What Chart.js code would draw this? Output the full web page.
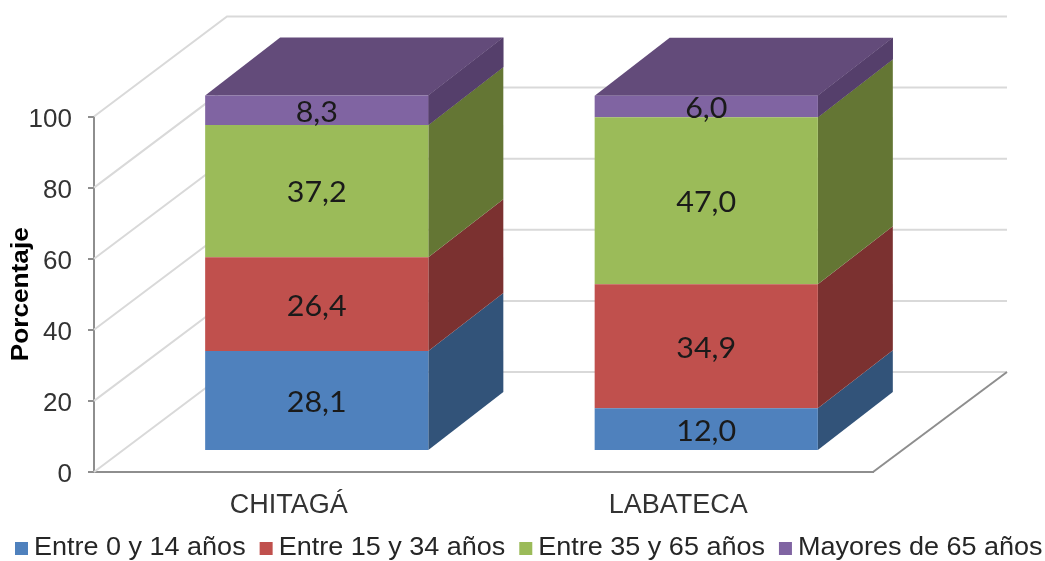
<!DOCTYPE html>
<html>
<head>
<meta charset="utf-8">
<script src="https://cdn.jsdelivr.net/npm/chart.js@4"></script>
<style>
  body { margin: 0; background: #fff; }
</style>
</head>
<body>
<canvas id="poblacionChart" width="1045" height="561"></canvas>
<script>
const municipios = ["CHITAGÁ", "LABATECA"];
const entre0y14 = [28.1, 12.0];
const entre15y34 = [26.4, 34.9];
const entre35y65 = [37.2, 47.0];
const mayores65 = [8.3, 6.0];
const nombresSeries = ["Entre 0 y 14 años", "Entre 15 y 34 años", "Entre 35 y 65 años", "Mayores de 65 años"];
const yTicks = [0, 20, 40, 60, 80, 100];

const frente = ["#4f81bd", "#c0504d", "#9bbb59", "#8064a2"];
const lado = ["#325379", "#7b3130", "#647634", "#553f6b"];
const tapa = "#634b7a";

// desplazamiento del frente de la barra y profundidad de la caja
const offX = 28, offY = -21;
const fondoX = 75, fondoY = -58;
// profundidad de las paredes del grafico
const paredX = 133, paredY = -100;

function poly(ctx, pts, color) {
  ctx.fillStyle = color;
  ctx.beginPath();
  pts.forEach((p, i) => (i ? ctx.lineTo(p[0], p[1]) : ctx.moveTo(p[0], p[1])));
  ctx.closePath();
  ctx.fill();
}

// texto ensanchado solo en horizontal
function textoAncho(ctx, texto, x, y, escala) {
  ctx.save();
  ctx.translate(x, y);
  ctx.scale(escala, 1);
  ctx.fillText(texto, 0, 0);
  ctx.restore();
}

const caja3d = {
  id: "caja3d",
  beforeDatasetsDraw(chart) {
    const ctx = chart.ctx;
    const { left, right, bottom } = chart.chartArea;
    const y = chart.scales.y;
    ctx.save();
    // lineas de la pared lateral y del fondo
    ctx.strokeStyle = "#d9d9d9";
    ctx.lineWidth = 2;
    yTicks.forEach((t) => {
      const py = y.getPixelForValue(t);
      ctx.beginPath();
      ctx.moveTo(left, py);
      ctx.lineTo(left + paredX, py + paredY);
      ctx.lineTo(right + paredX + 1, py + paredY);
      ctx.stroke();
    });
    // borde derecho del piso
    ctx.strokeStyle = "#8e8e8e";
    ctx.beginPath();
    ctx.moveTo(right, bottom);
    ctx.lineTo(right + paredX + 1, bottom + paredY);
    ctx.stroke();

    // caras laterales y tapa, se dibujan antes de las barras
    ctx.translate(offX, offY);
    chart.data.datasets.forEach((ds, i) => {
      chart.getDatasetMeta(i).data.forEach((bar) => {
        const x2 = bar.x + bar.width / 2;
        poly(ctx, [[x2, bar.y], [x2 + fondoX, bar.y + fondoY], [x2 + fondoX, bar.base + fondoY], [x2, bar.base]], lado[i]);
      });
    });
    const ultima = chart.data.datasets.length - 1;
    chart.getDatasetMeta(ultima).data.forEach((bar) => {
      const x1 = bar.x - bar.width / 2, x2 = bar.x + bar.width / 2;
      poly(ctx, [[x1, bar.y], [x1 + fondoX, bar.y + fondoY], [x2 + fondoX, bar.y + fondoY], [x2, bar.y]], tapa);
      poly(ctx, [[x2, bar.y], [x2 + fondoX, bar.y + fondoY], [x2 + fondoX, bar.base + fondoY], [x2, bar.base]], lado[ultima]);
    });
  },
  afterDatasetsDraw(chart) {
    const ctx = chart.ctx;
    // etiquetas de valor en el frente de cada segmento
    ctx.font = '29px Lato, "Open Sans", sans-serif';
    ctx.fillStyle = "#1a1a1a";
    ctx.textAlign = "center";
    ctx.textBaseline = "middle";
    chart.data.datasets.forEach((ds, i) => {
      chart.getDatasetMeta(i).data.forEach((bar, j) => {
        const texto = ds.data[j].toFixed(1).replace(".", ",");
        textoAncho(ctx, texto, bar.x, (bar.y + bar.base) / 2 + 2, 1.05);
      });
    });
    ctx.restore();
  },
  afterDraw(chart) {
    const ctx = chart.ctx;
    ctx.save();
    // leyenda inferior
    ctx.font = '25px "Liberation Sans", Arial, sans-serif';
    ctx.textAlign = "left";
    ctx.textBaseline = "middle";
    const anchoLeyenda = 1.08;
    let x = 15;
    nombresSeries.forEach((nombre, i) => {
      ctx.fillStyle = frente[i];
      ctx.fillRect(x, 542, 13, 13);
      ctx.fillStyle = "#262626";
      textoAncho(ctx, nombre, x + 19, 548.5, anchoLeyenda);
      x += 19 + ctx.measureText(nombre).width * anchoLeyenda + 14;
    });
    // titulo del eje vertical
    ctx.font = 'bold 23px "Liberation Sans", Arial, sans-serif';
    ctx.textAlign = "center";
    ctx.fillStyle = "#000";
    ctx.translate(22, (chart.chartArea.top + chart.chartArea.bottom) / 2);
    ctx.rotate(-Math.PI / 2);
    textoAncho(ctx, "Porcentaje", 0, 0, 134 / ctx.measureText("Porcentaje").width);
    ctx.restore();
  }
};

const series = [entre0y14, entre15y34, entre35y65, mayores65];

new Chart(document.getElementById("poblacionChart"), {
  type: "bar",
  data: {
    labels: municipios,
    datasets: series.map((valores, i) => ({
      label: nombresSeries[i],
      data: valores,
      backgroundColor: frente[i],
      clip: false,
    })),
  },
  options: {
    responsive: false,
    animation: false,
    barPercentage: 0.573,
    categoryPercentage: 1,
    layout: {
      autoPadding: false,
      padding: { top: 116.5, right: 172, bottom: 40, left: 0 },
    },
    plugins: {
      legend: { display: false },
      tooltip: { enabled: false },
    },
    scales: {
      x: {
        stacked: true,
        grid: { display: false },
        border: { color: "#8e8e8e", width: 2 },
        ticks: { color: "#333", padding: 9, font: { family: "Liberation Sans", size: 27 } },
        afterFit: (s) => { s.height = 49; },
      },
      y: {
        stacked: true,
        min: 0,
        max: 100,
        afterBuildTicks: (s) => { s.ticks = yTicks.map((v) => ({ value: v })); },
        grid: { drawOnChartArea: false, color: "#8e8e8e", lineWidth: 2, tickLength: 6 },
        border: { color: "#8e8e8e", width: 2 },
        ticks: { color: "#333", padding: 16, labelOffset: 3, font: { family: "Liberation Sans", size: 26 } },
        afterFit: (s) => { s.width = 94; },
      },
    },
  },
  plugins: [caja3d],
});
</script>
</body>
</html>
